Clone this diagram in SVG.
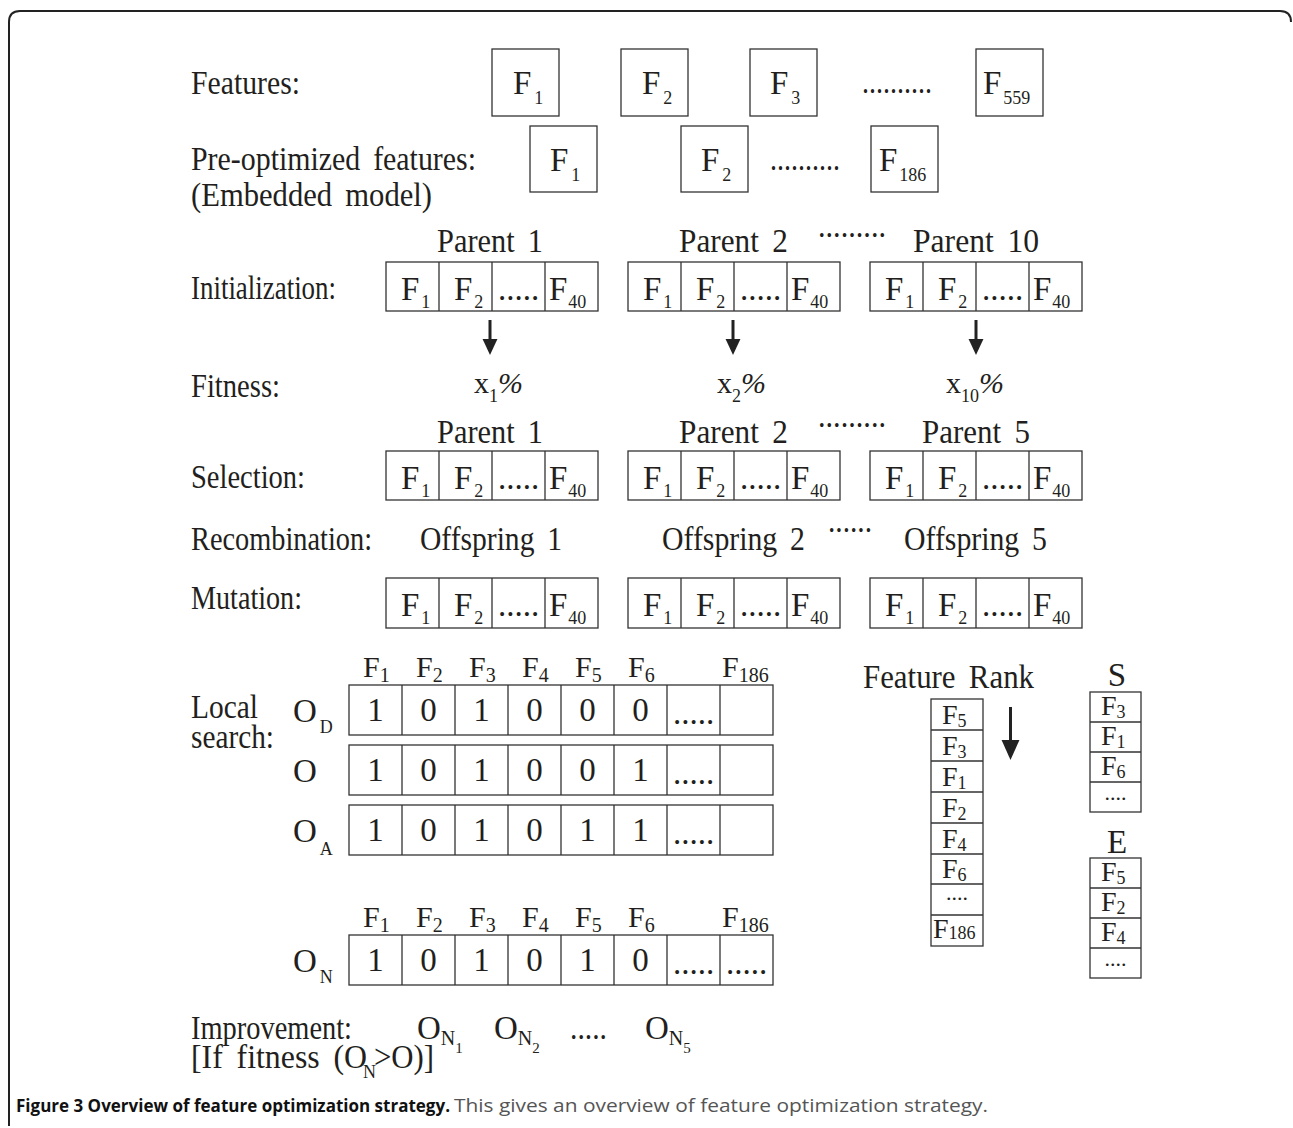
<svg xmlns="http://www.w3.org/2000/svg" width="1293" height="1128" viewBox="0 0 1293 1128">
<style>
.lb{font-family:"Liberation Serif","Times New Roman",serif;font-size:33px;fill:#231f20;word-spacing:6px}
.c{font-family:"Liberation Serif","Times New Roman",serif;font-size:33px;fill:#231f20}
.h{font-family:"Liberation Serif","Times New Roman",serif;font-size:30px;fill:#231f20}
.r{font-family:"Liberation Serif","Times New Roman",serif;font-size:28px;fill:#231f20}
.d{font-family:"Liberation Serif","Times New Roman",serif;font-size:22px;fill:#231f20}
.s{font-size:18px}
.hs{font-size:20px}
.bx{fill:#fff;stroke:#333;stroke-width:1.3}
.ln{fill:none;stroke:#333;stroke-width:1.3}
.ar{stroke:#222;stroke-width:3;fill:none}
.cap{font-family:"Open Sans","Noto Sans",sans-serif;font-size:18px}
</style>
<defs>
<marker id="ah" markerUnits="userSpaceOnUse" markerWidth="16" markerHeight="16" refX="1" refY="7" orient="auto" viewBox="0 0 15 14"><path d="M0,0 L15,7 L0,14 z" fill="#222"/></marker>
<marker id="ah2" markerUnits="userSpaceOnUse" markerWidth="20" markerHeight="20" refX="1" refY="8.5" orient="auto" viewBox="0 0 19 17"><path d="M0,0 L19,8.5 L0,17 z" fill="#222"/></marker>
</defs>
<rect width="1293" height="1128" fill="#fff"/>
<path d="M1291 22 Q1291 11 1280 11 L20 11 Q9 11 9 22 L9 1126" fill="none" stroke="#222" stroke-width="2"/>

<g id="labels">
<text class="lb" x="191" y="94" textLength="109" lengthAdjust="spacingAndGlyphs">Features:</text>
<text class="lb" x="191" y="170" textLength="285" lengthAdjust="spacingAndGlyphs">Pre-optimized features:</text>
<text class="lb" x="191" y="206" textLength="241" lengthAdjust="spacingAndGlyphs">(Embedded model)</text>
<text class="lb" x="191" y="299" textLength="145" lengthAdjust="spacingAndGlyphs">Initialization:</text>
<text class="lb" x="191" y="397" textLength="89" lengthAdjust="spacingAndGlyphs">Fitness:</text>
<text class="lb" x="191" y="488" textLength="114" lengthAdjust="spacingAndGlyphs">Selection:</text>
<text class="lb" x="191" y="550" textLength="181" lengthAdjust="spacingAndGlyphs">Recombination:</text>
<text class="lb" x="191" y="609" textLength="111" lengthAdjust="spacingAndGlyphs">Mutation:</text>
<text class="lb" x="191" y="718" textLength="67" lengthAdjust="spacingAndGlyphs">Local</text>
<text class="lb" x="191" y="748" textLength="83" lengthAdjust="spacingAndGlyphs">search:</text>
<text class="lb" x="191" y="1039" textLength="161" lengthAdjust="spacingAndGlyphs">Improvement:</text>
<text class="lb" x="191" y="1068" textLength="176" lengthAdjust="spacingAndGlyphs">[If fitness (O</text>
<text class="c s" x="363" y="1078">N</text>
<text class="lb" x="374" y="1068" textLength="60" lengthAdjust="spacingAndGlyphs">&gt;O)]</text>
</g>

<g id="features">
<rect class="bx" x="492" y="49" width="67" height="67"/>
<text class="c" x="513" y="94">F<tspan class="s" dx="3" dy="10">1</tspan></text>
<rect class="bx" x="621" y="49" width="67" height="67"/>
<text class="c" x="642" y="94">F<tspan class="s" dx="3" dy="10">2</tspan></text>
<rect class="bx" x="750" y="49" width="67" height="67"/>
<text class="c" x="770" y="94">F<tspan class="s" dx="3" dy="10">3</tspan></text>
<text class="c" x="862" y="93" textLength="70" lengthAdjust="spacingAndGlyphs">..........</text>
<rect class="bx" x="976" y="49" width="67" height="67"/>
<text class="c" x="983" y="94">F<tspan class="s" dx="2" dy="10">559</tspan></text>
</g>

<g id="preopt">
<rect class="bx" x="530" y="126" width="67" height="66"/>
<text class="c" x="550" y="171">F<tspan class="s" dx="3" dy="10">1</tspan></text>
<rect class="bx" x="681" y="126" width="67" height="66"/>
<text class="c" x="701" y="171">F<tspan class="s" dx="3" dy="10">2</tspan></text>
<text class="c" x="770" y="170" textLength="70" lengthAdjust="spacingAndGlyphs">..........</text>
<rect class="bx" x="871" y="126" width="67" height="66"/>
<text class="c" x="879" y="171">F<tspan class="s" dx="2" dy="10">186</tspan></text>
</g>

<g id="parent-labels">
<text class="lb" x="437" y="252" textLength="106" lengthAdjust="spacingAndGlyphs">Parent 1</text>
<text class="lb" x="679" y="252" textLength="109" lengthAdjust="spacingAndGlyphs">Parent 2</text>
<text class="c" x="818" y="237" textLength="68" lengthAdjust="spacingAndGlyphs">.........</text>
<text class="lb" x="913" y="252" textLength="126" lengthAdjust="spacingAndGlyphs">Parent 10</text>
<text class="lb" x="437" y="443" textLength="106" lengthAdjust="spacingAndGlyphs">Parent 1</text>
<text class="lb" x="679" y="443" textLength="109" lengthAdjust="spacingAndGlyphs">Parent 2</text>
<text class="c" x="818" y="427" textLength="68" lengthAdjust="spacingAndGlyphs">.........</text>
<text class="lb" x="922" y="443" textLength="108" lengthAdjust="spacingAndGlyphs">Parent 5</text>
</g>

<g id="init-p1">
<rect class="bx" x="386" y="262" width="212" height="49"/>
<path class="ln" d="M439 262v49M492 262v49M545 262v49"/>
<text class="c" x="401" y="300">F<tspan class="s" dx="2" dy="8">1</tspan></text>
<text class="c" x="454" y="300">F<tspan class="s" dx="2" dy="8">2</tspan></text>
<text class="c" x="518.5" y="300" text-anchor="middle">.....</text>
<text class="c" x="549" y="300">F<tspan class="s" dx="1" dy="8">40</tspan></text>
</g>
<g id="init-p2">
<rect class="bx" x="628" y="262" width="212" height="49"/>
<path class="ln" d="M681 262v49M734 262v49M787 262v49"/>
<text class="c" x="643" y="300">F<tspan class="s" dx="2" dy="8">1</tspan></text>
<text class="c" x="696" y="300">F<tspan class="s" dx="2" dy="8">2</tspan></text>
<text class="c" x="760.5" y="300" text-anchor="middle">.....</text>
<text class="c" x="791" y="300">F<tspan class="s" dx="1" dy="8">40</tspan></text>
</g>
<g id="init-p10">
<rect class="bx" x="870" y="262" width="212" height="49"/>
<path class="ln" d="M923 262v49M976 262v49M1029 262v49"/>
<text class="c" x="885" y="300">F<tspan class="s" dx="2" dy="8">1</tspan></text>
<text class="c" x="938" y="300">F<tspan class="s" dx="2" dy="8">2</tspan></text>
<text class="c" x="1002.5" y="300" text-anchor="middle">.....</text>
<text class="c" x="1033" y="300">F<tspan class="s" dx="1" dy="8">40</tspan></text>
</g>

<g id="fitness">
<text class="h" x="474" y="393">x<tspan class="s" dy="9">1</tspan><tspan dy="-9" font-style="italic">%</tspan></text>
<text class="h" x="717" y="393">x<tspan class="s" dy="9">2</tspan><tspan dy="-9" font-style="italic">%</tspan></text>
<text class="h" x="946" y="393">x<tspan class="s" dy="9">10</tspan><tspan dy="-9" font-style="italic">%</tspan></text>
</g>

<g id="sel-p1">
<rect class="bx" x="386" y="451" width="212" height="49"/>
<path class="ln" d="M439 451v49M492 451v49M545 451v49"/>
<text class="c" x="401" y="489">F<tspan class="s" dx="2" dy="8">1</tspan></text>
<text class="c" x="454" y="489">F<tspan class="s" dx="2" dy="8">2</tspan></text>
<text class="c" x="518.5" y="489" text-anchor="middle">.....</text>
<text class="c" x="549" y="489">F<tspan class="s" dx="1" dy="8">40</tspan></text>
</g>
<g id="sel-p2">
<rect class="bx" x="628" y="451" width="212" height="49"/>
<path class="ln" d="M681 451v49M734 451v49M787 451v49"/>
<text class="c" x="643" y="489">F<tspan class="s" dx="2" dy="8">1</tspan></text>
<text class="c" x="696" y="489">F<tspan class="s" dx="2" dy="8">2</tspan></text>
<text class="c" x="760.5" y="489" text-anchor="middle">.....</text>
<text class="c" x="791" y="489">F<tspan class="s" dx="1" dy="8">40</tspan></text>
</g>
<g id="sel-p5">
<rect class="bx" x="870" y="451" width="212" height="49"/>
<path class="ln" d="M923 451v49M976 451v49M1029 451v49"/>
<text class="c" x="885" y="489">F<tspan class="s" dx="2" dy="8">1</tspan></text>
<text class="c" x="938" y="489">F<tspan class="s" dx="2" dy="8">2</tspan></text>
<text class="c" x="1002.5" y="489" text-anchor="middle">.....</text>
<text class="c" x="1033" y="489">F<tspan class="s" dx="1" dy="8">40</tspan></text>
</g>

<g id="offspring">
<text class="lb" x="420" y="550" textLength="142" lengthAdjust="spacingAndGlyphs">Offspring 1</text>
<text class="lb" x="662" y="550" textLength="143" lengthAdjust="spacingAndGlyphs">Offspring 2</text>
<text class="c" x="828" y="532" textLength="44" lengthAdjust="spacingAndGlyphs">......</text>
<text class="lb" x="904" y="550" textLength="143" lengthAdjust="spacingAndGlyphs">Offspring 5</text>
</g>

<g id="mut-1">
<rect class="bx" x="386" y="578" width="212" height="50"/>
<path class="ln" d="M439 578v50M492 578v50M545 578v50"/>
<text class="c" x="401" y="616">F<tspan class="s" dx="2" dy="8">1</tspan></text>
<text class="c" x="454" y="616">F<tspan class="s" dx="2" dy="8">2</tspan></text>
<text class="c" x="518.5" y="616" text-anchor="middle">.....</text>
<text class="c" x="549" y="616">F<tspan class="s" dx="1" dy="8">40</tspan></text>
</g>
<g id="mut-2">
<rect class="bx" x="628" y="578" width="212" height="50"/>
<path class="ln" d="M681 578v50M734 578v50M787 578v50"/>
<text class="c" x="643" y="616">F<tspan class="s" dx="2" dy="8">1</tspan></text>
<text class="c" x="696" y="616">F<tspan class="s" dx="2" dy="8">2</tspan></text>
<text class="c" x="760.5" y="616" text-anchor="middle">.....</text>
<text class="c" x="791" y="616">F<tspan class="s" dx="1" dy="8">40</tspan></text>
</g>
<g id="mut-5">
<rect class="bx" x="870" y="578" width="212" height="50"/>
<path class="ln" d="M923 578v50M976 578v50M1029 578v50"/>
<text class="c" x="885" y="616">F<tspan class="s" dx="2" dy="8">1</tspan></text>
<text class="c" x="938" y="616">F<tspan class="s" dx="2" dy="8">2</tspan></text>
<text class="c" x="1002.5" y="616" text-anchor="middle">.....</text>
<text class="c" x="1033" y="616">F<tspan class="s" dx="1" dy="8">40</tspan></text>
</g>

<g id="ls-header">
<text class="h" x="363" y="677">F<tspan class="hs" dy="5">1</tspan></text>
<text class="h" x="416" y="677">F<tspan class="hs" dy="5">2</tspan></text>
<text class="h" x="469" y="677">F<tspan class="hs" dy="5">3</tspan></text>
<text class="h" x="522" y="677">F<tspan class="hs" dy="5">4</tspan></text>
<text class="h" x="575" y="677">F<tspan class="hs" dy="5">5</tspan></text>
<text class="h" x="628" y="677">F<tspan class="hs" dy="5">6</tspan></text>
<text class="h" x="722" y="677">F<tspan class="hs" dy="5">186</tspan></text>
</g>

<g id="row-OD">
<text class="c" x="293" y="722">O<tspan class="s" dx="3" dy="11">D</tspan></text>
<rect class="bx" x="349" y="685" width="424" height="50"/>
<path class="ln" d="M402 685v50M455 685v50M508 685v50M561 685v50M614 685v50M667 685v50M720 685v50"/>
<g class="c" text-anchor="middle">
<text x="375.5" y="721">1</text><text x="428.5" y="721">0</text><text x="481.5" y="721">1</text><text x="534.5" y="721">0</text><text x="587.5" y="721">0</text><text x="640.5" y="721">0</text><text x="693.5" y="724">.....</text>
</g>
</g>
<g id="row-O">
<text class="c" x="293" y="782">O</text>
<rect class="bx" x="349" y="745" width="424" height="50"/>
<path class="ln" d="M402 745v50M455 745v50M508 745v50M561 745v50M614 745v50M667 745v50M720 745v50"/>
<g class="c" text-anchor="middle">
<text x="375.5" y="781">1</text><text x="428.5" y="781">0</text><text x="481.5" y="781">1</text><text x="534.5" y="781">0</text><text x="587.5" y="781">0</text><text x="640.5" y="781">1</text><text x="693.5" y="784">.....</text>
</g>
</g>
<g id="row-OA">
<text class="c" x="293" y="842">O<tspan class="s" dx="3" dy="13">A</tspan></text>
<rect class="bx" x="349" y="805" width="424" height="50"/>
<path class="ln" d="M402 805v50M455 805v50M508 805v50M561 805v50M614 805v50M667 805v50M720 805v50"/>
<g class="c" text-anchor="middle">
<text x="375.5" y="841">1</text><text x="428.5" y="841">0</text><text x="481.5" y="841">1</text><text x="534.5" y="841">0</text><text x="587.5" y="841">1</text><text x="640.5" y="841">1</text><text x="693.5" y="844">.....</text>
</g>
</g>

<g id="on-header">
<text class="h" x="363" y="927">F<tspan class="hs" dy="5">1</tspan></text>
<text class="h" x="416" y="927">F<tspan class="hs" dy="5">2</tspan></text>
<text class="h" x="469" y="927">F<tspan class="hs" dy="5">3</tspan></text>
<text class="h" x="522" y="927">F<tspan class="hs" dy="5">4</tspan></text>
<text class="h" x="575" y="927">F<tspan class="hs" dy="5">5</tspan></text>
<text class="h" x="628" y="927">F<tspan class="hs" dy="5">6</tspan></text>
<text class="h" x="722" y="927">F<tspan class="hs" dy="5">186</tspan></text>
</g>
<g id="row-ON">
<text class="c" x="293" y="972">O<tspan class="s" dx="3" dy="11">N</tspan></text>
<rect class="bx" x="349" y="935" width="424" height="50"/>
<path class="ln" d="M402 935v50M455 935v50M508 935v50M561 935v50M614 935v50M667 935v50M720 935v50"/>
<g class="c" text-anchor="middle">
<text x="375.5" y="971">1</text><text x="428.5" y="971">0</text><text x="481.5" y="971">1</text><text x="534.5" y="971">0</text><text x="587.5" y="971">1</text><text x="640.5" y="971">0</text><text x="693.5" y="974">.....</text><text x="746.5" y="974">.....</text>
</g>
</g>

<g id="feature-rank">
<text class="lb" x="863" y="688" textLength="171" lengthAdjust="spacingAndGlyphs">Feature Rank</text>
<rect class="bx" x="931" y="699" width="52" height="247"/>
<path class="ln" d="M931 730h52M931 761h52M931 792h52M931 823h52M931 854h52M931 884h52M931 915h52"/>
<text class="r" x="942" y="724">F<tspan class="s" dy="3">5</tspan></text>
<text class="r" x="942" y="755">F<tspan class="s" dy="3">3</tspan></text>
<text class="r" x="942" y="786">F<tspan class="s" dy="3">1</tspan></text>
<text class="r" x="942" y="817">F<tspan class="s" dy="3">2</tspan></text>
<text class="r" x="942" y="848">F<tspan class="s" dy="3">4</tspan></text>
<text class="r" x="942" y="878">F<tspan class="s" dy="3">6</tspan></text>
<text class="d" x="957" y="900" text-anchor="middle">....</text>
<text class="r" x="933" y="938">F<tspan class="s" dy="1">186</tspan></text>
</g>

<g id="set-S">
<text class="c" x="1117" y="686" text-anchor="middle">S</text>
<rect class="bx" x="1090" y="692" width="51" height="120"/>
<path class="ln" d="M1090 722h51M1090 752h51M1090 782h51"/>
<text class="r" x="1101" y="715">F<tspan class="s" dy="3">3</tspan></text>
<text class="r" x="1101" y="745">F<tspan class="s" dy="3">1</tspan></text>
<text class="r" x="1101" y="775">F<tspan class="s" dy="3">6</tspan></text>
<text class="d" x="1115.5" y="800" text-anchor="middle">....</text>
</g>

<g id="set-E">
<text class="c" x="1117" y="853" text-anchor="middle">E</text>
<rect class="bx" x="1090" y="858" width="51" height="120"/>
<path class="ln" d="M1090 888h51M1090 918h51M1090 948h51"/>
<text class="r" x="1101" y="881">F<tspan class="s" dy="3">5</tspan></text>
<text class="r" x="1101" y="911">F<tspan class="s" dy="3">2</tspan></text>
<text class="r" x="1101" y="941">F<tspan class="s" dy="3">4</tspan></text>
<text class="d" x="1115.5" y="966" text-anchor="middle">....</text>
</g>

<g id="improvement">
<text class="c" x="417" y="1039">O<tspan class="hs" dy="6">N</tspan><tspan font-size="15" dy="8">1</tspan></text>
<text class="c" x="494" y="1039">O<tspan class="hs" dy="6">N</tspan><tspan font-size="15" dy="8">2</tspan></text>
<text class="c" x="570" y="1039" textLength="37" lengthAdjust="spacingAndGlyphs">.....</text>
<text class="c" x="645" y="1039">O<tspan class="hs" dy="6">N</tspan><tspan font-size="15" dy="8">5</tspan></text>
</g>

<g id="connectors">
<path class="ar" d="M490 320V340" marker-end="url(#ah)"/>
<path class="ar" d="M733 320V340" marker-end="url(#ah)"/>
<path class="ar" d="M976 320V340" marker-end="url(#ah)"/>
<path class="ar" d="M1010.5 707V741" marker-end="url(#ah2)"/>
</g>

<g id="caption">
<text class="cap" x="16" y="1112" font-weight="bold" fill="#111" textLength="434" lengthAdjust="spacingAndGlyphs">Figure 3 Overview of feature optimization strategy.</text>
<text class="cap" x="454" y="1112" fill="#555" textLength="534" lengthAdjust="spacingAndGlyphs">This gives an overview of feature optimization strategy.</text>
</g>
</svg>
